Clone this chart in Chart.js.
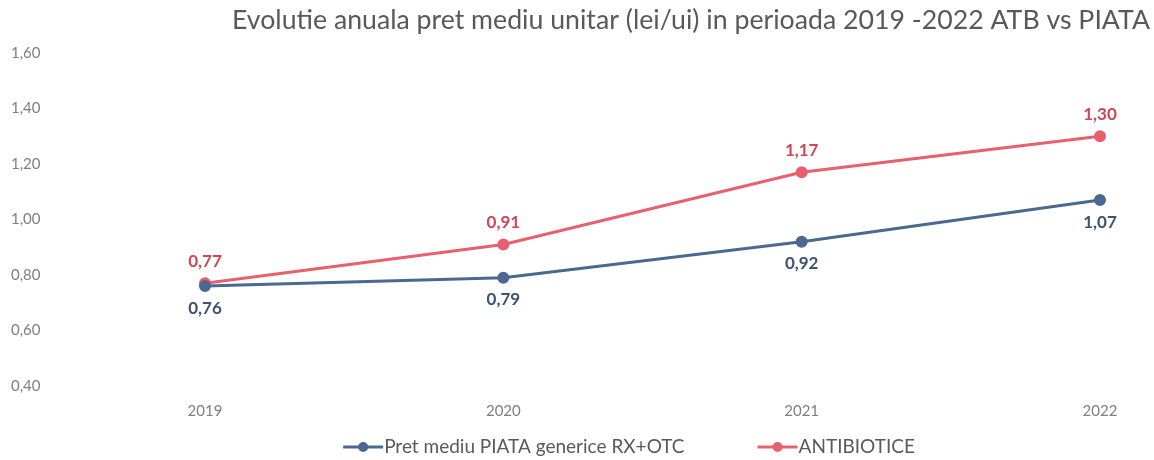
<!DOCTYPE html>
<html>
<head>
<meta charset="utf-8">
<script src="https://cdn.jsdelivr.net/npm/chart.js@4"></script>
<style>
  html, body { margin: 0; padding: 0; background: #fff; }
  #wrap { width: 1154px; height: 460px; }
</style>
</head>
<body>
<div id="wrap"><canvas id="priceChart" width="1154" height="460"></canvas></div>
<script>
// --- date ---
const years = ["2019", "2020", "2021", "2022"];
const piataValues = [0.76, 0.79, 0.92, 1.07];
const atbValues = [0.77, 0.91, 1.17, 1.30];
const yTicks = [0.40, 0.60, 0.80, 1.00, 1.20, 1.40, 1.60];

const fmt = v => v.toFixed(2).replace(".", ",");

// etichete de valori
const valueLabels = {
  id: "valueLabels",
  afterDatasetsDraw(chart) {
    const ctx = chart.ctx;
    ctx.save();
    ctx.font = "bold 17px Lato";
    ctx.textAlign = "center";
    ctx.textBaseline = "middle";
    chart.data.datasets.forEach((ds, i) => {
      const meta = chart.getDatasetMeta(i);
      meta.data.forEach((pt, j) => {
        ctx.fillStyle = ds.labelColor;
        ctx.fillText(fmt(ds.data[j]), pt.x, pt.y + ds.labelOffset);
      });
    });
    ctx.restore();
  }
};

// legenda jos: linie + punct, apoi textul (ca in Excel)
const bottomLegend = {
  id: "bottomLegend",
  afterDraw(chart) {
    const ctx = chart.ctx;
    const sets = chart.data.datasets;
    const y = 447, markW = 40, gap = 73, centerX = 629;
    ctx.save();
    ctx.font = "19px Lato";
    ctx.textBaseline = "middle";
    ctx.textAlign = "left";
    const widths = sets.map(ds => ctx.measureText(ds.label).width);
    const total = widths.reduce((a, w) => a + markW + 1 + w, 0) + gap * (sets.length - 1);
    let x = centerX - total / 2;
    sets.forEach((ds, i) => {
      ctx.strokeStyle = ds.borderColor;
      ctx.lineWidth = 3;
      ctx.beginPath(); ctx.moveTo(x, y); ctx.lineTo(x + markW, y); ctx.stroke();
      ctx.fillStyle = ds.borderColor;
      ctx.beginPath(); ctx.arc(x + markW / 2, y, 5, 0, Math.PI * 2); ctx.fill();
      ctx.fillStyle = "#595959";
      ctx.fillText(ds.label, x + markW + 1, y);
      x += markW + 1 + widths[i] + gap;
    });
    ctx.restore();
  }
};

const ctx = document.getElementById("priceChart").getContext("2d");
new Chart(ctx, {
  type: "line",
  data: {
    labels: years,
    datasets: [{
      label: "Pret mediu PIATA generice RX+OTC",
      data: piataValues,
      borderColor: "#4a6890",
      backgroundColor: "#4a6890",
      borderWidth: 3,
      pointRadius: 4.5,
      labelColor: "#3d5274",
      labelOffset: 22
    }, {
      label: "ANTIBIOTICE",
      data: atbValues,
      borderColor: "#e8606c",
      backgroundColor: "#e8606c",
      borderWidth: 3,
      pointRadius: 4.5,
      labelColor: "#cf4657",
      labelOffset: -22
    }]
  },
  options: {
    responsive: false,
    animation: false,
    layout: { padding: { left: 11, right: 4, top: 4, bottom: 32 } },
    plugins: {
      title: {
        display: true,
        text: "Evolutie anuala pret mediu unitar (lei/ui) in perioada 2019 -2022 ATB vs PIATA",
        align: "end",
        color: "#595959",
        font: { family: "Lato", size: 26.7, weight: "normal" },
        padding: { top: 0, bottom: 17 }
      },
      legend: { display: false },
      tooltip: { enabled: false }
    },
    scales: {
      x: {
        offset: false,
        grid: { display: false },
        border: { display: false },
        ticks: { color: "#7f7f7f", font: { family: "Lato", size: 15 }, padding: 8 }
      },
      y: {
        min: 0.4,
        max: 1.6,
        grid: { display: false },
        border: { display: false },
        afterBuildTicks(scale) { scale.ticks = yTicks.map(v => ({ value: v })); },
        afterFit(scale) { scale.width = 194; },
        ticks: {
          color: "#7f7f7f",
          font: { family: "Lato", size: 15 },
          crossAlign: "far",
          callback: v => fmt(v)
        }
      },
      yRight: {
        position: "right",
        display: true,
        grid: { display: false },
        border: { display: false },
        ticks: { display: false },
        afterFit(scale) { scale.width = 50; }
      }
    }
  },
  plugins: [valueLabels, bottomLegend]
});
</script>
</body>
</html>
